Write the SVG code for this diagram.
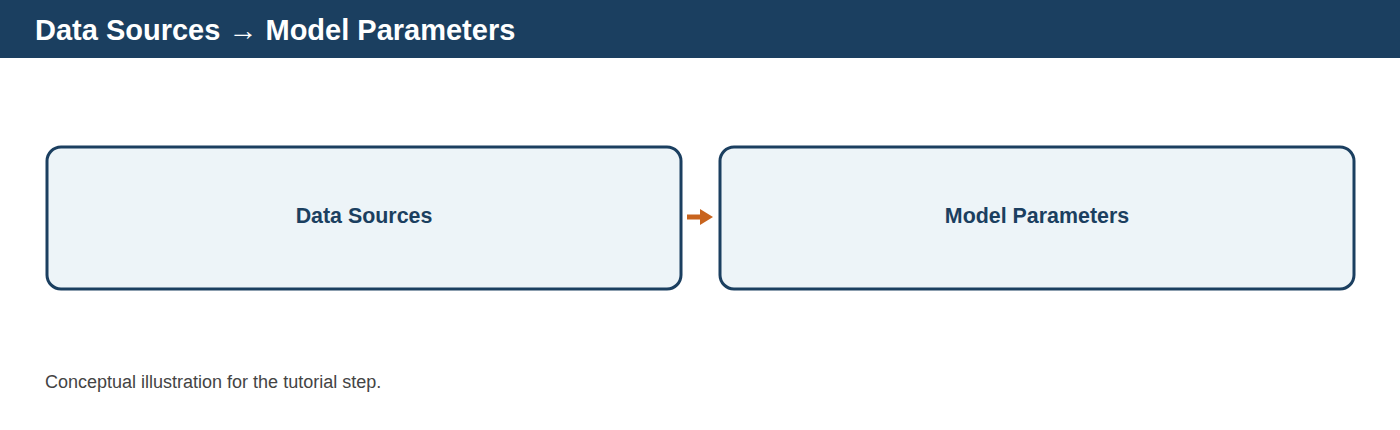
<svg xmlns="http://www.w3.org/2000/svg" width="1400" height="430" viewBox="0 0 1400 430">
<style>
.node rect{fill:#edf4f8;stroke:#1b3f60;stroke-width:3}
.lbl{font-family:"Liberation Sans",Arial,sans-serif;font-size:21.4px;font-weight:bold;fill:#1b3f60;text-anchor:middle}
.title{font-family:"Liberation Sans",Arial,sans-serif;font-size:29px;font-weight:bold;fill:#ffffff}
.cap{font-family:"Liberation Sans",Arial,sans-serif;font-size:18px;fill:#444444}
</style>
<defs>
<marker id="ah" markerWidth="13" markerHeight="16" refX="0" refY="8" orient="auto" markerUnits="userSpaceOnUse">
<path d="M0,0 L13,8 L0,16 z" fill="#c8641e"/>
</marker>
</defs>
<rect x="0" y="0" width="1400" height="430" fill="#ffffff"/>
<g id="header">
<rect x="0" y="0" width="1400" height="58" fill="#1b3f60"/>
<text class="title" x="35" y="40">Data Sources → Model Parameters</text>
</g>
<g id="node-data-sources" class="node">
<rect x="47" y="147" width="634" height="142" rx="14" ry="14"/>
<text class="lbl" x="364" y="223">Data Sources</text>
</g>
<g id="node-model-parameters" class="node">
<rect x="720" y="147" width="634" height="142" rx="14" ry="14"/>
<text class="lbl" x="1037" y="223">Model Parameters</text>
</g>
<g id="connectors">
<line x1="687" y1="217" x2="700" y2="217" stroke="#c8641e" stroke-width="5" marker-end="url(#ah)"/>
</g>
<text class="cap" x="45" y="388">Conceptual illustration for the tutorial step.</text>
</svg>
